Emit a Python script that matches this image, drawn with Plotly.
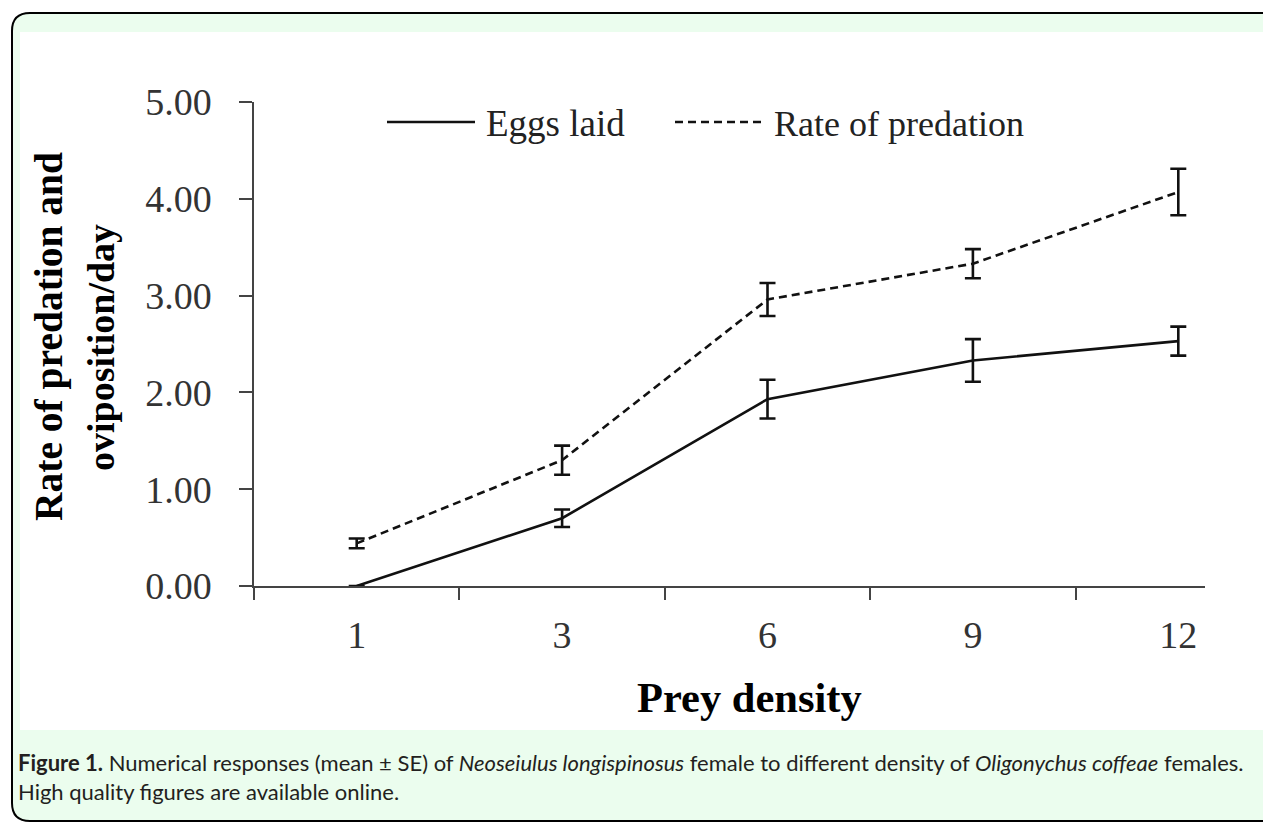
import plotly.graph_objects as go

W, H = 1271, 823
OFF = 8  # page body margin of the viewer

# ---- data ----
prey_density = ["1", "3", "6", "9", "12"]
eggs_laid = [0.00, 0.70, 1.93, 2.33, 2.53]
eggs_se = [0.00, 0.09, 0.20, 0.22, 0.15]
predation = [0.44, 1.30, 2.96, 3.33, 4.07]
predation_se = [0.05, 0.15, 0.17, 0.15, 0.24]
y_ticks = [0, 1, 2, 3, 4, 5]

pos = list(range(len(prey_density)))
bounds = [p - 0.5 for p in pos]


def X(px):
    return (px - OFF) / W


def Y(py):
    return 1 - (py - OFF) / H


def P(x, y):
    return f"{X(x):.5f},{Y(y):.5f}"


def se_or_none(vals):
    return [v if v > 0 else None for v in vals]


SERIF = "Liberation Serif, Times New Roman, serif"
INK = "#111111"
AX = "#444444"

fig = go.Figure()

fig.add_trace(go.Scatter(
    x=pos, y=eggs_laid, mode="lines", name="Eggs laid",
    line=dict(color=INK, width=2.6),
    error_y=dict(type="data", array=se_or_none(eggs_se), color=INK, thickness=2.6, width=8),
    showlegend=False, hoverinfo="skip"))

fig.add_trace(go.Scatter(
    x=pos, y=predation, mode="lines", name="Rate of predation",
    line=dict(color=INK, width=2.6, dash="8px,5px"),
    error_y=dict(type="data", array=se_or_none(predation_se), color=INK, thickness=2.6, width=8),
    showlegend=False, hoverinfo="skip"))

# invisible helper trace so the boundary-tick axis is drawn
fig.add_trace(go.Scatter(
    x=bounds, y=eggs_laid, xaxis="x2", mode="markers",
    marker=dict(opacity=0), showlegend=False, hoverinfo="skip"))

xr = [-0.5, 4.13]
dom_x = [X(254), X(1205)]

fig.update_layout(
    width=W, height=H,
    margin=dict(l=0, r=0, t=0, b=0, pad=0),
    paper_bgcolor="white",
    plot_bgcolor="rgba(0,0,0,0)",
    showlegend=False,
    xaxis=dict(
        domain=dom_x, range=xr, tickvals=pos, ticktext=prey_density,
        ticks="", showline=True, linecolor=AX, linewidth=1.5,
        showgrid=False, zeroline=False, ticklabelstandoff=15, automargin=False,
        tickfont=dict(family=SERIF, size=38, color="#333333"),
    ),
    xaxis2=dict(
        domain=dom_x, range=xr, overlaying="x", anchor="y", side="bottom",
        tickvals=bounds, showticklabels=False, ticks="outside",
        ticklen=13, tickwidth=1.5, tickcolor=AX, showline=False,
        showgrid=False, zeroline=False, automargin=False,
    ),
    yaxis=dict(
        domain=[Y(586), Y(102)], range=[0, 5], tickvals=y_ticks,
        tickformat=".2f", ticks="outside", ticklen=13, tickwidth=1.5,
        tickcolor=AX, showline=True, linecolor=AX, linewidth=1.5,
        showgrid=False, zeroline=False, ticklabelstandoff=20, automargin=False,
        tickfont=dict(family=SERIF, size=38, color="#333333"),
    ),
)

r = 18
frame_path = (f"M{P(12 + r, 13)} L{P(1300, 13)} L{P(1300, 821)} L{P(12 + r, 821)} "
              f"Q{P(12, 821)} {P(12, 821 - r)} L{P(12, 13 + r)} Q{P(12, 13)} {P(12 + r, 13)} Z")

shapes = [
    dict(type="path", xref="paper", yref="paper", path=frame_path,
         fillcolor="#ebfdee", line=dict(color="#000000", width=2), layer="below"),
    dict(type="rect", xref="paper", yref="paper", x0=X(20), x1=X(1300),
         y0=Y(730), y1=Y(32), fillcolor="white", line=dict(width=0), layer="below"),
    # legend samples
    dict(type="line", xref="paper", yref="paper", x0=X(387), x1=X(475),
         y0=Y(122), y1=Y(122), line=dict(color=INK, width=2.4)),
    dict(type="line", xref="paper", yref="paper", x0=X(675), x1=X(765),
         y0=Y(122), y1=Y(122), line=dict(color=INK, width=2.4, dash="8px,5px")),
]
fig.update_layout(shapes=shapes)

CAP_FONT = dict(family="Lato, Noto Sans, sans-serif", size=22, color="#231f20")
ann = [
    dict(text="Eggs laid", x=X(484), y=Y(124), xanchor="left", yanchor="middle",
         font=dict(family=SERIF, size=37, color="#222222")),
    dict(text="Rate of predation", x=X(772), y=Y(124), xanchor="left", yanchor="middle",
         font=dict(family=SERIF, size=36, color="#222222")),
    dict(text="<b>Rate of predation and</b>", x=X(49), y=Y(337), textangle=-90,
         xanchor="center", yanchor="middle",
         font=dict(family=SERIF, size=39.5, color="#000000")),
    dict(text="<b>oviposition/day</b>", x=X(101), y=Y(348), textangle=-90,
         xanchor="center", yanchor="middle",
         font=dict(family=SERIF, size=38, color="#000000")),
    dict(text="<b>Prey density</b>", x=X(750), y=Y(697), xanchor="center", yanchor="middle",
         font=dict(family=SERIF, size=42.5, color="#000000")),
    dict(text="<b>Figure 1.</b> Numerical responses (mean ± SE) of <i>Neoseiulus longispinosus</i> "
              "female to different density of <i>Oligonychus coffeae</i> females.",
         x=X(16), y=Y(762), xanchor="left", yanchor="middle", font=CAP_FONT),
    dict(text="High quality figures are available online.",
         x=X(16), y=Y(791), xanchor="left", yanchor="middle", font=CAP_FONT),
]
for a in ann:
    a.update(xref="paper", yref="paper", showarrow=False)
fig.update_layout(annotations=ann)

fig.write_html("out.html")
